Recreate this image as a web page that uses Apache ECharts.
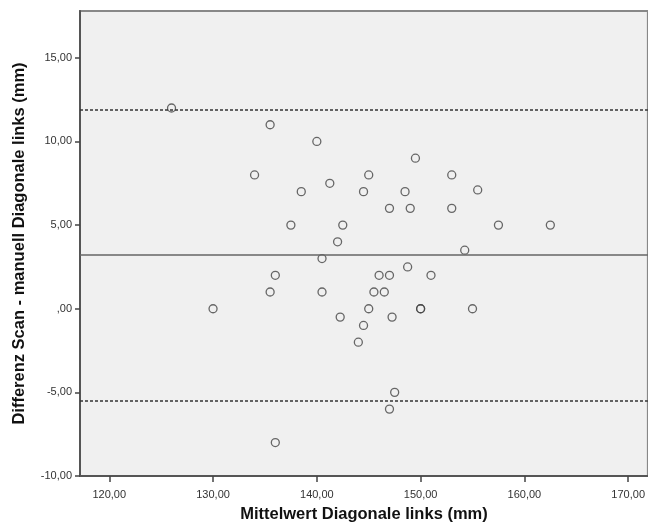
<!DOCTYPE html>
<html>
<head>
<meta charset="utf-8">
<script src="https://cdn.jsdelivr.net/npm/echarts@6/dist/echarts.min.js"></script>
<style>
  html, body { margin: 0; padding: 0; background: #fff; }
  #chart { width: 648px; height: 528px; }
</style>
</head>
<body>
<div id="chart"></div>
<script>
// Mittelwert (x) und Differenz (y) der Diagonale links
var meanVals = [126, 130, 135.5, 134, 140, 145, 141.25, 138.5, 144.5, 147,
  137.5, 142.5, 142, 140.5, 136, 146, 147, 149.5, 153, 148.5,
  155.5, 149, 153, 157.5, 162.5, 154.25, 148.75, 151, 135.5, 140.5,
  145.5, 146.5, 145, 150, 150, 155, 142.25, 147.25, 144.5, 144,
  147.5, 147, 136];
var diffVals = [12, 0, 11, 8, 10, 8, 7.5, 7, 7, 6,
  5, 5, 4, 3, 2, 2, 2, 9, 8, 7,
  7.1, 6, 6, 5, 5, 3.5, 2.5, 2, 1, 1,
  1, 1, 0, 0, 0, 0, -0.5, -0.5, -1, -2,
  -5, -6, -8];

// Mittelwert der Differenz und Übereinstimmungsgrenzen
var meanDiff = 3.21;
var upperLimit = 11.9;
var lowerLimit = -5.5;

var xTicks = [120, 130, 140, 150, 160, 170];
var yTicks = [-10, -5, 0, 5, 10, 15];

var points = meanVals.map(function (x, i) { return [x, diffVals[i]]; });

function fmt(v) {
  var s = Math.abs(v).toFixed(2).replace('.', ',');
  if (Math.abs(v) < 1) s = s.slice(1);
  return (v < 0 ? '-' : '') + s;
}

var chart = echarts.init(document.getElementById('chart'));
var option = {
  animation: false,
  backgroundColor: '#ffffff',
  grid: {
    left: 80, top: 11, right: -2, bottom: 51,
    show: true,
    backgroundColor: '#f0f0f0',
    borderColor: '#888',
    borderWidth: 2
  },
  xAxis: {
    type: 'value',
    min: 117.18,
    max: 171.9,
    name: 'Mittelwert Diagonale links (mm)',
    nameLocation: 'middle',
    nameGap: 30,
    nameTextStyle: { fontFamily: 'Liberation Sans', fontSize: 16.5, fontWeight: 'bold', color: '#111' },
    axisLine: { show: true, onZero: false, lineStyle: { color: '#555', width: 2 } },
    axisTick: { show: true, length: 6, customValues: xTicks, lineStyle: { color: '#444', width: 1.5 } },
    axisLabel: {
      customValues: xTicks, margin: 13,
      fontFamily: 'Liberation Sans', fontSize: 11, color: '#333',
      formatter: fmt
    },
    splitLine: { show: false }
  },
  yAxis: {
    type: 'value',
    min: -10,
    max: 17.8,
    name: 'Differenz Scan - manuell Diagonale links (mm)',
    nameLocation: 'middle',
    nameGap: 52,
    nameTextStyle: { fontFamily: 'Liberation Sans', fontSize: 16.5, fontWeight: 'bold', color: '#111' },
    axisLine: { show: true, onZero: false, lineStyle: { color: '#555', width: 2 } },
    axisTick: { show: true, length: 5, customValues: yTicks, lineStyle: { color: '#444', width: 1.5 } },
    axisLabel: {
      customValues: yTicks, margin: 8,
      fontFamily: 'Liberation Sans', fontSize: 11, color: '#333',
      formatter: fmt
    },
    splitLine: { show: false }
  },
  series: [{
    type: 'scatter',
    data: points,
    symbol: 'circle',
    symbolSize: 8,
    itemStyle: { color: 'rgba(0,0,0,0)', borderColor: '#444', borderWidth: 1.3 },
    z: 3,
    markLine: {
      silent: true,
      symbol: 'none',
      label: { show: false },
      data: [
        { yAxis: meanDiff, lineStyle: { color: '#666', width: 1.5, type: 'solid' } },
        { yAxis: upperLimit, lineStyle: { color: '#333', width: 1.5, type: [3, 2] } },
        { yAxis: lowerLimit, lineStyle: { color: '#333', width: 1.5, type: [3, 2] } }
      ]
    }
  }]
};
chart.setOption(option);
</script>
</body>
</html>
